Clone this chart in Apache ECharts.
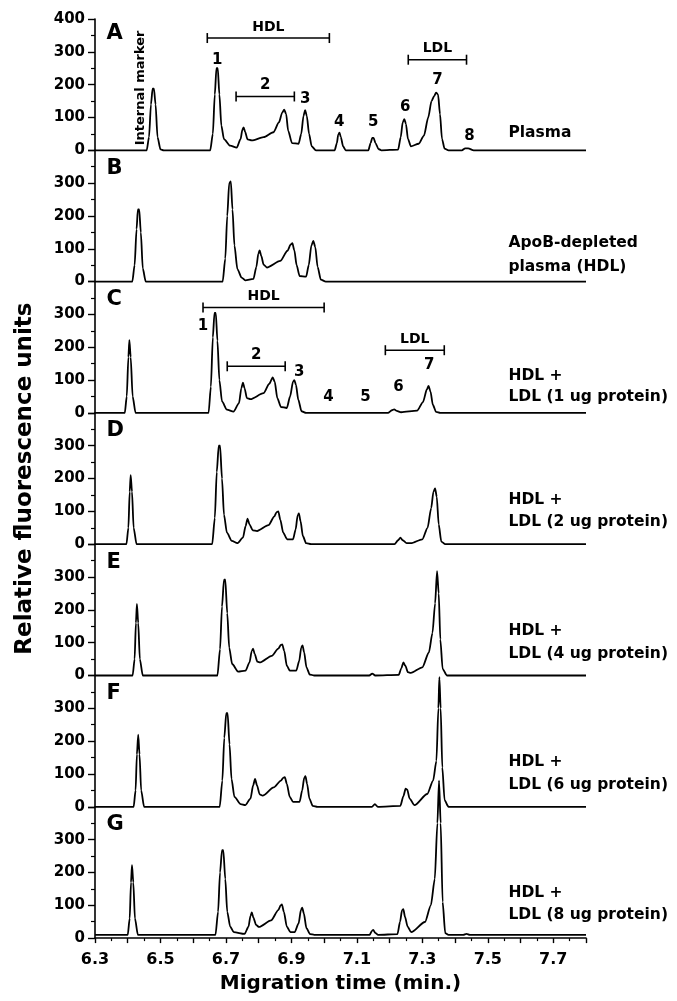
<!DOCTYPE html>
<html>
<head>
<meta charset="utf-8">
<script src="https://cdn.jsdelivr.net/npm/echarts@6/dist/echarts.min.js"></script>
<style>
  html, body { margin: 0; padding: 0; background: #fff; }
  #chart { width: 677px; height: 1001px; }
</style>
</head>
<body>
<div id="chart"></div>
<script>
// x axis (migration time, min.)
const xTicks = [6.3, 6.5, 6.7, 6.9, 7.1, 7.3, 7.5, 7.7];
const yTicksTop = [0, 100, 200, 300, 400];
const yTicksRest = [0, 100, 200, 300];

const panelLetters = ['A', 'B', 'C', 'D', 'E', 'F', 'G'];
const notesA = ['Plasma'];
const notesB = ['ApoB-depleted', 'plasma (HDL)'];
const notesC = ['HDL +', 'LDL (1 ug protein)'];
const notesD = ['HDL +', 'LDL (2 ug protein)'];
const notesE = ['HDL +', 'LDL (4 ug protein)'];
const notesF = ['HDL +', 'LDL (6 ug protein)'];
const notesG = ['HDL +', 'LDL (8 ug protein)'];

// traces: [migration time, fluorescence]
const traceA = [
  [6.30, 0], [6.458, 0], [6.465, 40], [6.471, 140], [6.476, 188], [6.480, 188], [6.485, 140],
  [6.491, 40], [6.500, 3], [6.51, 0],
  [6.652, 0], [6.660, 50], [6.666, 170], [6.671, 250], [6.675, 250], [6.680, 170], [6.686, 75],
  [6.694, 34], [6.713, 14], [6.733, 8], [6.745, 35], [6.750, 62], [6.754, 70], [6.759, 55],
  [6.766, 33], [6.779, 30], [6.815, 40], [6.845, 55], [6.862, 85], [6.872, 115], [6.878, 124],
  [6.884, 110], [6.890, 60], [6.902, 22], [6.922, 20], [6.930, 50], [6.937, 105], [6.942, 122],
  [6.947, 105], [6.954, 50], [6.962, 12], [6.975, 0],
  [7.032, 0], [7.039, 22], [7.043, 48], [7.047, 54], [7.051, 40], [7.058, 12], [7.066, 0],
  [7.135, 0], [7.142, 22], [7.147, 38], [7.151, 38], [7.157, 22], [7.166, 4], [7.175, 0],
  [7.226, 2], [7.234, 40], [7.240, 85], [7.245, 95], [7.250, 80], [7.256, 35], [7.265, 12],
  [7.289, 20], [7.305, 45], [7.318, 100], [7.328, 150], [7.336, 165], [7.342, 176], [7.348, 170],
  [7.354, 110], [7.360, 35], [7.368, 5], [7.38, 0],
  [7.421, 0], [7.431, 6], [7.440, 6], [7.457, 0], [7.80, 0]
];
const traceB = [
  [6.30, 0], [6.414, 0], [6.421, 50], [6.427, 160], [6.431, 220], [6.435, 220], [6.440, 150],
  [6.446, 40], [6.455, 0],
  [6.690, 0], [6.698, 70], [6.704, 200], [6.710, 300], [6.715, 305], [6.720, 220], [6.726, 110],
  [6.735, 38], [6.748, 12], [6.759, 4], [6.784, 8], [6.793, 45], [6.799, 85], [6.803, 95],
  [6.808, 78], [6.815, 52], [6.825, 43], [6.866, 63], [6.888, 94], [6.898, 113], [6.903, 117],
  [6.909, 95], [6.916, 50], [6.925, 17], [6.945, 15], [6.953, 50], [6.961, 110], [6.967, 124],
  [6.973, 105], [6.980, 45], [6.990, 6], [7.005, 0], [7.80, 0]
];
const traceC = [
  [6.30, 0], [6.391, 0], [6.397, 50], [6.402, 170], [6.405, 222], [6.409, 170], [6.415, 50],
  [6.424, 0],
  [6.647, 0], [6.654, 80], [6.660, 230], [6.665, 305], [6.669, 305], [6.674, 220], [6.680, 100],
  [6.688, 35], [6.703, 10], [6.723, 4], [6.740, 30], [6.747, 75], [6.752, 92], [6.757, 75],
  [6.764, 45], [6.775, 42], [6.815, 60], [6.832, 88], [6.843, 108], [6.849, 95], [6.857, 45],
  [6.868, 18], [6.886, 15], [6.896, 50], [6.905, 95], [6.909, 100], [6.914, 85], [6.921, 40],
  [6.931, 5], [6.945, 0],
  [7.195, 0], [7.207, 8], [7.214, 11], [7.222, 6], [7.235, 2], [7.284, 7], [7.302, 33],
  [7.314, 72], [7.319, 82], [7.325, 65], [7.332, 25], [7.342, 3], [7.355, 0], [7.80, 0]
];
const traceD = [
  [6.30, 0], [6.396, 0], [6.402, 50], [6.406, 160], [6.409, 210], [6.413, 160], [6.418, 50],
  [6.427, 0],
  [6.658, 0], [6.666, 80], [6.672, 220], [6.678, 300], [6.682, 300], [6.688, 200], [6.694, 90],
  [6.703, 35], [6.718, 10], [6.735, 3], [6.752, 20], [6.760, 55], [6.766, 78], [6.772, 60],
  [6.782, 42], [6.795, 40], [6.830, 58], [6.848, 85], [6.855, 98], [6.860, 100], [6.866, 75],
  [6.875, 35], [6.887, 15], [6.905, 15], [6.913, 45], [6.919, 88], [6.923, 94], [6.928, 70],
  [6.935, 25], [6.945, 3], [6.96, 0],
  [7.215, 0], [7.226, 12], [7.233, 20], [7.240, 12], [7.252, 3], [7.265, 3], [7.300, 15],
  [7.316, 50], [7.327, 110], [7.334, 160], [7.339, 170], [7.344, 145], [7.350, 60], [7.358, 8],
  [7.37, 0], [7.80, 0]
];
const traceE = [
  [6.30, 0], [6.415, 0], [6.421, 50], [6.425, 160], [6.428, 218], [6.432, 160], [6.437, 50],
  [6.446, 0],
  [6.674, 0], [6.682, 80], [6.688, 210], [6.694, 292], [6.698, 292], [6.704, 190], [6.710, 85],
  [6.719, 35], [6.737, 12], [6.760, 15], [6.772, 40], [6.779, 75], [6.783, 82], [6.788, 65],
  [6.796, 42], [6.805, 40], [6.840, 60], [6.860, 82], [6.868, 93], [6.872, 95], [6.878, 75],
  [6.886, 30], [6.895, 15], [6.915, 15], [6.924, 45], [6.930, 85], [6.934, 92], [6.939, 70],
  [6.946, 25], [6.956, 3], [6.97, 0],
  [7.138, 0], [7.147, 6], [7.156, 0], [7.228, 2], [7.236, 22], [7.242, 40], [7.248, 30],
  [7.256, 10], [7.265, 8], [7.300, 25], [7.320, 70], [7.331, 130], [7.339, 220], [7.345, 318],
  [7.350, 250], [7.355, 110], [7.362, 20], [7.375, 0], [7.80, 0]
];
const traceF = [
  [6.30, 0], [6.418, 0], [6.424, 50], [6.428, 160], [6.432, 220], [6.436, 160], [6.441, 50],
  [6.450, 0],
  [6.681, 0], [6.689, 80], [6.695, 210], [6.701, 285], [6.705, 285], [6.711, 190], [6.717, 85],
  [6.726, 30], [6.745, 8], [6.759, 5], [6.775, 25], [6.783, 65], [6.789, 85], [6.795, 65],
  [6.803, 38], [6.812, 34], [6.846, 59], [6.868, 80], [6.876, 89], [6.880, 90], [6.886, 70],
  [6.895, 30], [6.905, 15], [6.925, 15], [6.933, 50], [6.939, 88], [6.943, 93], [6.948, 70],
  [6.955, 25], [6.965, 3], [6.98, 0],
  [7.146, 0], [7.155, 8], [7.164, 0], [7.233, 3], [7.242, 32], [7.249, 55], [7.254, 52],
  [7.261, 25], [7.276, 5], [7.315, 39], [7.333, 80], [7.343, 140], [7.349, 300], [7.352, 395],
  [7.356, 300], [7.361, 120], [7.368, 20], [7.38, 0], [7.80, 0]
];
const traceG = [
  [6.30, 10], [6.400, 10], [6.406, 60], [6.410, 170], [6.413, 222], [6.417, 170], [6.422, 60],
  [6.431, 10],
  [6.668, 10], [6.676, 80], [6.682, 200], [6.688, 268], [6.692, 268], [6.698, 180], [6.704, 80],
  [6.713, 35], [6.724, 18], [6.757, 13], [6.769, 35], [6.775, 68], [6.779, 78], [6.784, 62],
  [6.792, 40], [6.801, 34], [6.838, 54], [6.860, 85], [6.867, 100], [6.871, 103], [6.877, 80],
  [6.886, 35], [6.897, 18], [6.910, 18], [6.922, 45], [6.929, 85], [6.933, 93], [6.938, 75],
  [6.946, 30], [6.957, 12], [6.97, 10],
  [7.139, 10], [7.146, 22], [7.150, 25], [7.156, 16], [7.165, 10], [7.224, 12], [7.232, 50],
  [7.238, 85], [7.242, 88], [7.247, 65], [7.255, 35], [7.266, 18], [7.308, 49], [7.326, 100],
  [7.338, 180], [7.346, 350], [7.351, 480], [7.356, 350], [7.362, 110], [7.370, 15], [7.38, 10],
  [7.425, 10], [7.435, 13], [7.445, 10], [7.80, 10]
];

// peak numbers: [text, time, level]
const peakLabelsA = [['1', 6.673, 276], ['3', 6.942, 155], ['4', 7.046, 86], ['5', 7.150, 86],
  ['6', 7.248, 133], ['7', 7.346, 215], ['8', 7.444, 42]];
const peakLabelsC = [['1', 6.630, 264], ['3', 6.924, 124], ['4', 7.013, 48], ['5', 7.126, 48],
  ['6', 7.227, 79], ['7', 7.321, 145]];
// brackets: [from, to, level, text]
const bracketsA = [[6.643, 7.016, 342, 'HDL'], [6.731, 6.909, 164, '2'], [7.257, 7.435, 276, 'LDL']];
const bracketsC = [[6.630, 7.000, 321, 'HDL'], [6.704, 6.881, 142, '2'], [7.187, 7.367, 191, 'LDL']];

const traces = [traceA, traceB, traceC, traceD, traceE, traceF, traceG];
const notes = [notesA, notesB, notesC, notesD, notesE, notesF, notesG];

// layout
const FONT = 'DejaVu Sans';
const GRID_LEFT = 95, GRID_W = 491, TOP0 = 19, PANEL_H = 131.3;
const noteLevels = [[52], [118, 45], [112, 48], [136, 67], [136, 67], [136, 67], [139, 70]];
const letterLevel = [357, 345, 345, 345, 345, 345, 345];

const chart = echarts.init(document.getElementById('chart'));

const grids = [], xAxes = [], yAxes = [], series = [];
const isTick = (list, v) => list.some(t => Math.abs(t - v) < 1e-6);

for (let i = 0; i < 7; i++) {
  const last = i === 6;
  grids.push({ left: GRID_LEFT, width: GRID_W, top: TOP0 + i * PANEL_H, height: PANEL_H });
  xAxes.push({
    type: 'value', gridIndex: i, min: 6.3, max: 7.8, interval: 0.1,
    show: last,
    axisLine: { show: last, onZero: false, lineStyle: { color: '#000', width: 1.6 } },
    axisTick: { show: last, length: 5, lineStyle: { color: '#000', width: 1.4 } },
    minorTick: { show: last, splitNumber: 2, length: 3, lineStyle: { color: '#000', width: 1.2 } },
    splitLine: { show: false },
    axisLabel: {
      show: last, margin: 14, color: '#000', fontFamily: FONT, fontWeight: 'bold', fontSize: 16,
      formatter: v => isTick(xTicks, v) ? v.toFixed(1) : ''
    },
    name: last ? 'Migration time (min.)' : '',
    nameLocation: 'middle', nameGap: 36,
    nameTextStyle: { color: '#000', fontFamily: FONT, fontWeight: 'bold', fontSize: 20 }
  });
  const yList = i === 0 ? yTicksTop : yTicksRest;
  yAxes.push({
    type: 'value', gridIndex: i, min: 0, max: 400, interval: 100,
    axisLine: { show: true, lineStyle: { color: '#000', width: 1.6 } },
    axisTick: { show: true, length: 7, lineStyle: { color: '#000', width: 1.4 } },
    minorTick: { show: true, splitNumber: 2, length: 4, lineStyle: { color: '#000', width: 1.2 } },
    splitLine: { show: false },
    axisLabel: {
      margin: 10, color: '#000', fontFamily: FONT, fontWeight: 'bold', fontSize: 15,
      formatter: v => isTick(yList, v) ? String(v) : ''
    },
    name: i === 3 ? 'Relative fluorescence units' : '',
    nameLocation: 'middle', nameGap: 58,
    nameTextStyle: { color: '#000', fontFamily: FONT, fontWeight: 'bold', fontSize: 23 }
  });

  series.push({
    type: 'line', xAxisIndex: i, yAxisIndex: i, data: traces[i],
    showSymbol: false, smooth: 0.25, smoothMonotone: 'x', clip: false, silent: true,
    lineStyle: { color: '#000', width: 1.8 }
  });

  // panel letter and side notes as text labels
  const textItems = [{ value: [6.335, letterLevel[i]], name: panelLetters[i],
    label: { fontSize: 21 } }];
  notes[i].forEach((t, k) => textItems.push({ value: [7.563, noteLevels[i][k]], name: t }));
  if (i === 0) {
    textItems.push({ value: [6.440, 190], name: 'Internal marker',
      label: { rotate: 90, align: 'center', fontSize: 13 } });
  }
  series.push({
    type: 'scatter', xAxisIndex: i, yAxisIndex: i, symbolSize: 0, silent: true, z: 5,
    itemStyle: { opacity: 1 },
    data: textItems,
    label: {
      show: true, position: 'inside', align: 'left', verticalAlign: 'middle', formatter: '{b}',
      color: '#000', textBorderWidth: 0, fontFamily: FONT, fontWeight: 'bold', fontSize: 15.5
    }
  });
}

function addPeakLabels(idx, list) {
  series.push({
    type: 'scatter', xAxisIndex: idx, yAxisIndex: idx, symbolSize: 0, silent: true, z: 5,
    itemStyle: { opacity: 1 },
    data: list.map(p => ({ value: [p[1], p[2]], name: p[0] })),
    label: {
      show: true, position: 'inside', align: 'center', verticalAlign: 'middle', formatter: '{b}',
      color: '#000', textBorderWidth: 0, fontFamily: FONT, fontWeight: 'bold', fontSize: 15
    }
  });
}
function addBrackets(idx, list) {
  series.push({
    type: 'custom', xAxisIndex: idx, yAxisIndex: idx, silent: true, z: 5,
    data: list.map(b => [b[0], b[1], b[2]]),
    renderItem: (params, api) => {
      const a = api.coord([api.value(0), api.value(2)]);
      const b = api.coord([api.value(1), api.value(2)]);
      const st = { stroke: '#000', lineWidth: 1.6 };
      const cap = 5;
      return {
        type: 'group',
        children: [
          { type: 'line', shape: { x1: a[0], y1: a[1], x2: b[0], y2: b[1] }, style: st },
          { type: 'line', shape: { x1: a[0], y1: a[1] - cap, x2: a[0], y2: a[1] + cap }, style: st },
          { type: 'line', shape: { x1: b[0], y1: b[1] - cap, x2: b[0], y2: b[1] + cap }, style: st },
          { type: 'text', style: {
              text: list[params.dataIndex][3], x: (a[0] + b[0]) / 2, y: a[1] - 4,
              textAlign: 'center', textVerticalAlign: 'bottom', fill: '#000',
              font: 'bold ' + (list[params.dataIndex][3] === '2' ? 15 : 14) + 'px ' + FONT
          } }
        ]
      };
    }
  });
}
addPeakLabels(0, peakLabelsA);
addPeakLabels(2, peakLabelsC);
addBrackets(0, bracketsA);
addBrackets(2, bracketsC);

chart.setOption({
  backgroundColor: '#fff',
  animation: false,
  grid: grids,
  xAxis: xAxes,
  yAxis: yAxes,
  series: series
});
</script>
</body>
</html>
